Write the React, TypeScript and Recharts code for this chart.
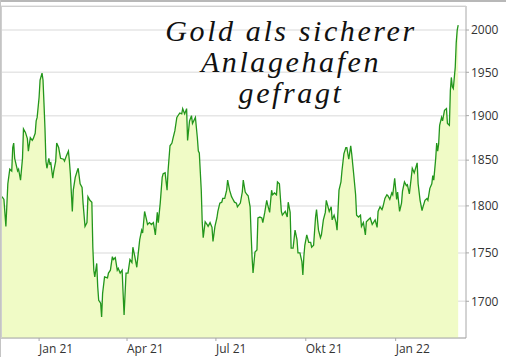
import { AreaChart, Area, XAxis, YAxis, CartesianGrid } from 'recharts';

// days since 2021-01-01, gold price
const days = [
  -38, -36, -34, -32, -30, -28, -27, -26, -25, -22, -21, -19, -17, -16, -14, -12, -11, -9, -7, -6, -4, -3, -2,
  0, 1, 3, 4, 5, 6, 7, 8, 10, 11, 12, 14, 15, 17, 18, 20, 22, 25, 26, 28, 30, 31, 32, 34, 35, 37, 39, 40, 42,
  44, 45, 47, 49, 50, 52, 54, 55, 56, 57, 59, 60, 61, 63, 64, 65, 67, 70, 71, 73, 75, 76, 78, 80, 81, 83, 85,
  86, 87, 89, 91, 93, 95, 96, 98, 100, 101, 103, 105, 106, 108, 110, 111, 113, 115, 117, 119, 121, 122, 124,
  126, 127, 129, 131, 132, 134, 136, 137, 139, 141, 144, 146, 147, 149, 151, 152, 154, 156, 157, 160, 162, 163,
  164, 166, 167, 168, 170, 172, 173, 175, 177, 178, 180, 182, 183, 185, 187, 188, 190, 192, 193, 195, 197, 198,
  200, 202, 203, 206, 208, 209, 211, 213, 214, 216, 217, 218, 219, 221, 223, 224, 226, 228, 229, 231, 233, 234,
  236, 238, 239, 241, 243, 244, 246, 248, 249, 252, 254, 255, 257, 258, 260, 262, 264, 265, 267, 269, 270, 271,
  272, 274, 276, 278, 279, 281, 283, 284, 286, 288, 289, 291, 293, 294, 297, 299, 300, 302, 304, 305, 307, 309,
  310, 312, 314, 315, 317, 319, 320, 322, 324, 325, 327, 329, 330, 332, 334, 335, 337, 339, 341, 344, 346, 347,
  349, 351, 352, 354, 356, 357, 359, 361, 362, 364, 366, 367, 369, 371, 372, 374, 376, 377, 379, 381, 382, 384,
  387, 388, 390, 392, 393, 395, 397, 398, 400, 402, 403, 404, 406, 407, 408, 409, 410, 412, 413, 415, 417, 418,
  420, 421, 422, 423, 424, 426, 427, 428, 429,
];

const prices = [
  1810, 1807, 1778, 1824, 1840, 1838, 1864, 1869, 1852, 1838, 1840, 1828, 1852, 1885, 1881, 1874, 1860, 1875, 1872, 1874, 1880, 1894, 1898,
  1921, 1941, 1949, 1941, 1914, 1886, 1849, 1841, 1852, 1846, 1847, 1830, 1838, 1849, 1869, 1864, 1852, 1851, 1849, 1855, 1860, 1849, 1835, 1794, 1817, 1831, 1838, 1841, 1824,
  1820, 1803, 1778, 1782, 1810, 1806, 1804, 1756, 1732, 1725, 1739, 1715, 1701, 1698, 1684, 1708, 1725, 1724, 1729, 1732, 1746, 1743, 1745, 1732, 1734, 1729, 1732,
  1708, 1686, 1729, 1729, 1743, 1740, 1756, 1746, 1735, 1745, 1764, 1774, 1771, 1794, 1785, 1780, 1782, 1780, 1782, 1769, 1793, 1782, 1803,
  1831, 1835, 1836, 1817, 1838, 1866, 1869, 1874, 1883, 1898, 1903, 1902, 1908, 1902, 1908, 1872, 1894, 1900, 1891, 1898, 1875, 1860,
  1858, 1817, 1782, 1766, 1783, 1780, 1778, 1782, 1777, 1762, 1778, 1787, 1794, 1803, 1804, 1808, 1808, 1817, 1828, 1817, 1810, 1808,
  1804, 1803, 1799, 1803, 1815, 1828, 1815, 1812, 1811, 1799, 1771, 1746, 1729, 1751, 1753, 1787, 1788, 1787, 1782, 1793, 1806, 1801,
  1793, 1817, 1812, 1814, 1812, 1826, 1824, 1794, 1790, 1794, 1788, 1804, 1793, 1755, 1755, 1774, 1764, 1750, 1750, 1741, 1727, 1746,
  1758, 1769, 1761, 1761, 1756, 1758, 1788, 1796, 1774, 1766, 1769, 1785, 1793, 1806, 1794, 1799, 1785, 1790, 1782, 1774, 1817, 1826,
  1838, 1857, 1864, 1864, 1851, 1866, 1857, 1835, 1812, 1790, 1788, 1790, 1778, 1782, 1769, 1783, 1785, 1787, 1780, 1785, 1777, 1794,
  1799, 1796, 1799, 1808, 1812, 1811, 1807, 1814, 1812, 1830, 1807, 1815, 1794, 1803, 1816, 1826, 1822, 1823, 1813, 1831, 1841, 1836,
  1847, 1824, 1806, 1795, 1799, 1806, 1808, 1806, 1819, 1824, 1833, 1828, 1852, 1869, 1860, 1868, 1889, 1898, 1894, 1906, 1908, 1891,
  1889, 1929, 1944, 1933, 1931, 1956, 1985, 2000, 2006,
];

const tickDays = [0, 90, 181, 273, 365];
const tickLabels = ['Jan 21', 'Apr 21', 'Jul 21', 'Okt 21', 'Jan 22'];
const priceTicks = [1700, 1750, 1800, 1850, 1900, 1950, 2000];
const titleLines = ['Gold als sicherer', 'Anlagehafen', 'gefragt'];

const data = days.map((d, i) => ({ day: d, price: prices[i] }));

const FONT = '"Open Sans", sans-serif';

// eslint-disable-next-line @typescript-eslint/no-explicit-any
function MonthTick({ x, y, payload }: any) {
  const idx = tickDays.indexOf(payload.value);
  return (
    <text x={x} y={y} dy={10} textAnchor="start" fontSize={12} fill="#333" fontFamily={FONT}>
      {idx >= 0 ? tickLabels[idx] : ''}
    </text>
  );
}

export default function App() {
  return (
    <div
      style={{
        position: 'fixed', left: 0, top: 0, width: 506, height: 357,
        background: '#fff', overflow: 'hidden',
      }}
    >
      {/* page frame */}
      <div style={{ position: 'absolute', left: 0, top: 0, width: 506, height: 2, background: '#b8b8b8' }} />
      <div style={{ position: 'absolute', left: 0, top: 0, width: 1, height: 357, background: '#c4c4c4' }} />

      <AreaChart
        width={506}
        height={357}
        data={data}
        margin={{ top: 6, right: 0, left: 1, bottom: 0 }}
      >
        <CartesianGrid horizontal vertical={false} stroke="#e6e6e6" strokeWidth={1.5} />
        <XAxis
          type="number"
          dataKey="day"
          domain={[-39, 437]}
          ticks={tickDays}
          tick={<MonthTick />}
          tickSize={3}
          height={19}
          stroke="#a8a8a8"
          interval={0}
        />
        <YAxis
          orientation="right"
          scale="log"
          domain={[1663, 2029]}
          allowDataOverflow
          ticks={priceTicks}
          tickSize={3}
          width={40}
          stroke="#a8a8a8"
          tick={{ fill: '#333', fontSize: 12, fontFamily: FONT }}
          interval={0}
        />
        <Area
          type="linear"
          dataKey="price"
          stroke="#23961c"
          strokeWidth={1.3}
          fill="#f0fbc6"
          fillOpacity={1}
          baseValue="dataMin"
          isAnimationActive={false}
          dot={false}
          activeDot={false}
        />
      </AreaChart>

      {/* plot frame */}
      <div
        style={{
          position: 'absolute', left: 1, top: 6, width: 465, height: 332,
          borderTop: '1px solid #cfcfcf', borderLeft: '1px solid #cfcfcf',
          boxSizing: 'border-box', pointerEvents: 'none',
        }}
      />

      {/* title, one line per box */}
      {titleLines.map((l, i) => (
        <div
          key={l}
          style={{
            position: 'absolute', left: 141, top: 16 + i * 31, width: 300, height: 30,
            textAlign: 'center', whiteSpace: 'nowrap',
            fontFamily: '"Liberation Serif", serif', fontStyle: 'italic', fontSize: 30,
            letterSpacing: '2.6px', lineHeight: '30px', color: '#111',
          }}
        >
          {l}
        </div>
      ))}
    </div>
  );
}
